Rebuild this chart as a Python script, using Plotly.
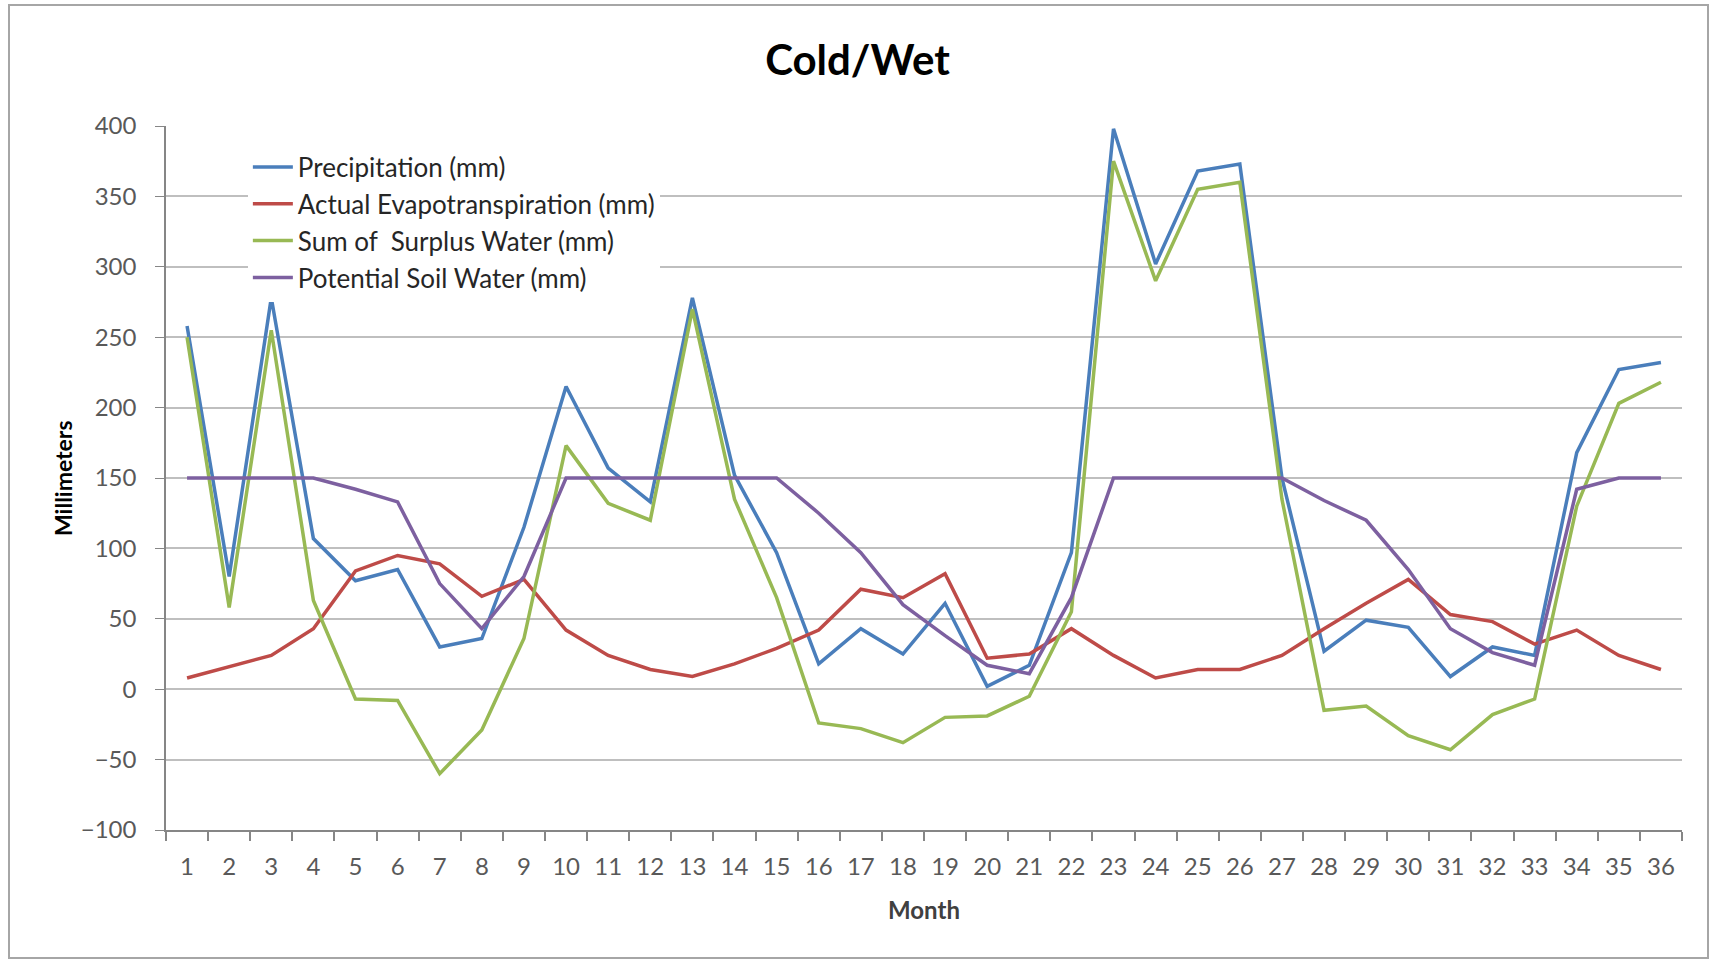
import plotly.graph_objects as go

# ---- data ----
months = [str(m) for m in range(1, 37)]

precipitation = [258, 80, 278, 107, 77, 85, 30, 36, 115, 215, 157, 133,
                 278, 152, 97, 18, 43, 25, 61, 2, 17, 97, 398, 302,
                 368, 373, 150, 27, 49, 44, 9, 30, 24, 168, 227, 232]

actual_et = [8, 16, 24, 43, 84, 95, 89, 66, 78, 42, 24, 14,
             9, 18, 29, 42, 71, 65, 82, 22, 25, 43, 24, 8,
             14, 14, 24, 43, 61, 78, 53, 48, 32, 42, 24, 14]

surplus = [250, 58, 255, 63, -7, -8, -60, -29, 36, 173, 132, 120,
           270, 135, 65, -24, -28, -38, -20, -19, -5, 55, 375, 290,
           355, 360, 135, -15, -12, -33, -43, -18, -7, 130, 203, 218]

soil_water = [150, 150, 150, 150, 142, 133, 75, 43, 80, 150, 150, 150,
              150, 150, 150, 125, 97, 60, 38, 17, 11, 65, 150, 150,
              150, 150, 150, 134, 120, 85, 43, 26, 17, 142, 150, 150]

series = [
    ("Precipitation (mm)", precipitation, "#4A7EBB"),
    ("Actual Evapotranspiration (mm)", actual_et, "#BE4B48"),
    ("Sum of  Surplus Water (mm)", surplus, "#98B954"),
    ("Potential Soil Water (mm)", soil_water, "#7D60A0"),
]

FONT = "Lato, 'Open Sans', sans-serif"

fig = go.Figure()
for name, vals, col in series:
    fig.add_trace(go.Scatter(x=months, y=vals, mode="lines", name=name,
                             line=dict(color=col, width=3.5)))

fig.update_layout(
    width=1715, height=963,
    margin=dict(l=166, r=33, t=126, b=133),
    paper_bgcolor="white", plot_bgcolor="white",
    font=dict(family=FONT, color="#595959"),
    title=dict(text="<b>Cold/Wet</b>", x=0.5, xref="container",
               y=1 - 60 / 963, yref="container", yanchor="middle", xanchor="center",
               font=dict(size=42, color="black", family=FONT)),
    showlegend=True,
    legend=dict(x=0.054, y=0.975, xanchor="left", yanchor="top",
                bgcolor="white", font=dict(size=26, color="#262626"),
                itemwidth=40, tracegroupgap=0),
)

fig.update_xaxes(type="category", tickson="boundaries", ticks="outside",
                 range=[-0.5, 35.5],
                 ticklen=9, tickcolor="#868686", tickwidth=1.5,
                 showline=True, linecolor="#868686", linewidth=1.5,
                 showgrid=False, tickfont=dict(size=24, color="#595959"),
                 ticklabelstandoff=14)

fig.update_yaxes(range=[-100, 400], dtick=50, ticks="outside", ticklen=9,
                 tickcolor="#868686", showline=True, linecolor="#868686",
                 linewidth=1.5, showgrid=True, gridcolor="#BFBFBF", gridwidth=2,
                 zeroline=False, tickfont=dict(size=24, color="#595959"),
                 ticklabelstandoff=14)

# axis titles
fig.add_annotation(text="<b>Millimeters</b>", x=(63 - 166) / 1516, xref="paper",
                   y=0.5, yref="paper", textangle=-90, showarrow=False,
                   xanchor="center", yanchor="middle",
                   font=dict(size=23, color="black"))
fig.add_annotation(text="<b>Month</b>", x=0.5, xref="paper", y=(830 - 910) / 704,
                   yref="paper", showarrow=False, xanchor="center", yanchor="middle",
                   font=dict(size=24, color="#404040"))

# outer frame
fig.add_shape(type="rect", xref="paper", yref="paper",
              x0=(9 - 166) / 1516, x1=(1708 - 166) / 1516,
              y0=(830 - 958) / 704, y1=(830 - 5) / 704,
              line=dict(color="#A6A6A6", width=2))

fig.write_html("out.html", config={"displayModeBar": False},
               post_script="document.body.style.margin='0';")
